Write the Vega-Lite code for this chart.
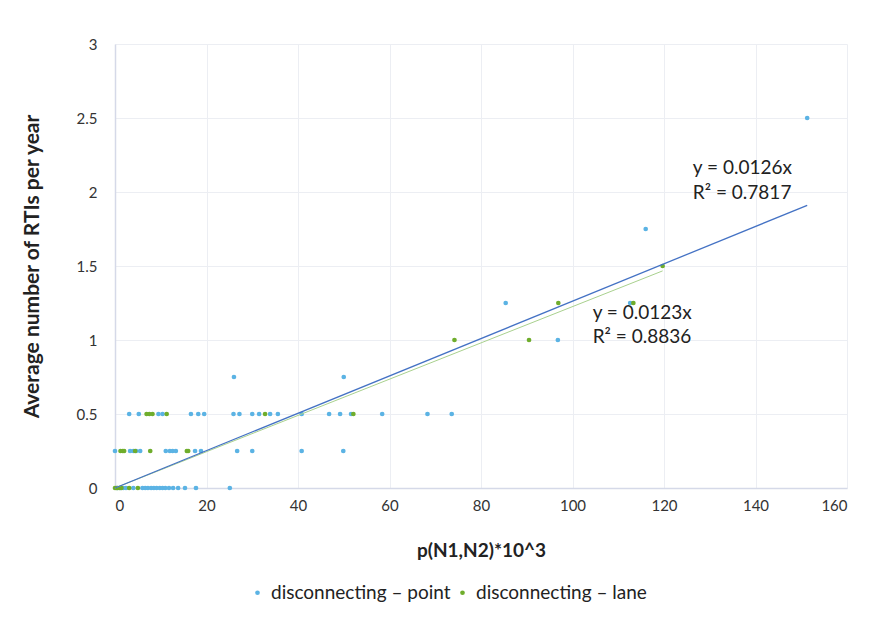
{
  "$schema": "https://vega.github.io/schema/vega-lite/v6.json",
  "width": 732,
  "height": 444,
  "autosize": {"type": "none"},
  "padding": {"left": 115, "top": 44, "right": 43, "bottom": 134},
  "background": "white",
  "config": {
    "font": "Lato",
    "view": {"stroke": null},
    "axis": {
      "grid": true,
      "gridColor": "#ECEEF3",
      "gridWidth": 1,
      "domainColor": "#D5D9E8",
      "domainWidth": 1.5,
      "ticks": false,
      "labelFont": "Lato",
      "labelFontSize": 15,
      "labelColor": "#333333",
      "titleFont": "Lato",
      "titleFontSize": 19,
      "titleFontWeight": "bold",
      "titleColor": "#222222"
    }
  },
  "datasets": {
    "points": [
      {"x": 0.5, "y": 0, "series": "disconnecting – point"},
      {"x": 1.2, "y": 0, "series": "disconnecting – point"},
      {"x": 1.8, "y": 0, "series": "disconnecting – point"},
      {"x": 2.4, "y": 0, "series": "disconnecting – point"},
      {"x": 4.0, "y": 0, "series": "disconnecting – point"},
      {"x": 6.0, "y": 0, "series": "disconnecting – point"},
      {"x": 6.6, "y": 0, "series": "disconnecting – point"},
      {"x": 7.2, "y": 0, "series": "disconnecting – point"},
      {"x": 7.9, "y": 0, "series": "disconnecting – point"},
      {"x": 8.5, "y": 0, "series": "disconnecting – point"},
      {"x": 9.1, "y": 0, "series": "disconnecting – point"},
      {"x": 9.8, "y": 0, "series": "disconnecting – point"},
      {"x": 10.4, "y": 0, "series": "disconnecting – point"},
      {"x": 11.0, "y": 0, "series": "disconnecting – point"},
      {"x": 11.8, "y": 0, "series": "disconnecting – point"},
      {"x": 12.7, "y": 0, "series": "disconnecting – point"},
      {"x": 13.8, "y": 0, "series": "disconnecting – point"},
      {"x": 15.3, "y": 0, "series": "disconnecting – point"},
      {"x": 17.7, "y": 0, "series": "disconnecting – point"},
      {"x": 25.1, "y": 0, "series": "disconnecting – point"},
      {"x": 0.0, "y": 0.25, "series": "disconnecting – point"},
      {"x": 3.3, "y": 0.25, "series": "disconnecting – point"},
      {"x": 4.0, "y": 0.25, "series": "disconnecting – point"},
      {"x": 4.6, "y": 0.25, "series": "disconnecting – point"},
      {"x": 5.5, "y": 0.25, "series": "disconnecting – point"},
      {"x": 11.1, "y": 0.25, "series": "disconnecting – point"},
      {"x": 12.0, "y": 0.25, "series": "disconnecting – point"},
      {"x": 12.6, "y": 0.25, "series": "disconnecting – point"},
      {"x": 13.3, "y": 0.25, "series": "disconnecting – point"},
      {"x": 17.5, "y": 0.25, "series": "disconnecting – point"},
      {"x": 18.8, "y": 0.25, "series": "disconnecting – point"},
      {"x": 26.7, "y": 0.25, "series": "disconnecting – point"},
      {"x": 30.0, "y": 0.25, "series": "disconnecting – point"},
      {"x": 40.8, "y": 0.25, "series": "disconnecting – point"},
      {"x": 49.9, "y": 0.25, "series": "disconnecting – point"},
      {"x": 3.1, "y": 0.5, "series": "disconnecting – point"},
      {"x": 5.2, "y": 0.5, "series": "disconnecting – point"},
      {"x": 9.5, "y": 0.5, "series": "disconnecting – point"},
      {"x": 10.4, "y": 0.5, "series": "disconnecting – point"},
      {"x": 16.6, "y": 0.5, "series": "disconnecting – point"},
      {"x": 18.2, "y": 0.5, "series": "disconnecting – point"},
      {"x": 19.5, "y": 0.5, "series": "disconnecting – point"},
      {"x": 25.9, "y": 0.5, "series": "disconnecting – point"},
      {"x": 27.2, "y": 0.5, "series": "disconnecting – point"},
      {"x": 30.0, "y": 0.5, "series": "disconnecting – point"},
      {"x": 31.5, "y": 0.5, "series": "disconnecting – point"},
      {"x": 33.9, "y": 0.5, "series": "disconnecting – point"},
      {"x": 35.6, "y": 0.5, "series": "disconnecting – point"},
      {"x": 40.8, "y": 0.5, "series": "disconnecting – point"},
      {"x": 46.8, "y": 0.5, "series": "disconnecting – point"},
      {"x": 49.2, "y": 0.5, "series": "disconnecting – point"},
      {"x": 51.6, "y": 0.5, "series": "disconnecting – point"},
      {"x": 58.4, "y": 0.5, "series": "disconnecting – point"},
      {"x": 68.3, "y": 0.5, "series": "disconnecting – point"},
      {"x": 73.6, "y": 0.5, "series": "disconnecting – point"},
      {"x": 26.0, "y": 0.75, "series": "disconnecting – point"},
      {"x": 50.0, "y": 0.75, "series": "disconnecting – point"},
      {"x": 96.8, "y": 1.0, "series": "disconnecting – point"},
      {"x": 85.4, "y": 1.25, "series": "disconnecting – point"},
      {"x": 112.6, "y": 1.25, "series": "disconnecting – point"},
      {"x": 116.0, "y": 1.75, "series": "disconnecting – point"},
      {"x": 151.3, "y": 2.5, "series": "disconnecting – point"},
      {"x": 0.0, "y": 0, "series": "disconnecting – lane"},
      {"x": 0.3, "y": 0, "series": "disconnecting – lane"},
      {"x": 0.6, "y": 0, "series": "disconnecting – lane"},
      {"x": 1.0, "y": 0, "series": "disconnecting – lane"},
      {"x": 1.4, "y": 0, "series": "disconnecting – lane"},
      {"x": 3.1, "y": 0, "series": "disconnecting – lane"},
      {"x": 5.0, "y": 0, "series": "disconnecting – lane"},
      {"x": 1.2, "y": 0.25, "series": "disconnecting – lane"},
      {"x": 1.7, "y": 0.25, "series": "disconnecting – lane"},
      {"x": 2.0, "y": 0.25, "series": "disconnecting – lane"},
      {"x": 4.4, "y": 0.25, "series": "disconnecting – lane"},
      {"x": 7.7, "y": 0.25, "series": "disconnecting – lane"},
      {"x": 15.7, "y": 0.25, "series": "disconnecting – lane"},
      {"x": 16.0, "y": 0.25, "series": "disconnecting – lane"},
      {"x": 6.9, "y": 0.5, "series": "disconnecting – lane"},
      {"x": 7.5, "y": 0.5, "series": "disconnecting – lane"},
      {"x": 8.2, "y": 0.5, "series": "disconnecting – lane"},
      {"x": 11.3, "y": 0.5, "series": "disconnecting – lane"},
      {"x": 32.8, "y": 0.5, "series": "disconnecting – lane"},
      {"x": 52.1, "y": 0.5, "series": "disconnecting – lane"},
      {"x": 74.2, "y": 1.0, "series": "disconnecting – lane"},
      {"x": 90.5, "y": 1.0, "series": "disconnecting – lane"},
      {"x": 96.9, "y": 1.25, "series": "disconnecting – lane"},
      {"x": 113.3, "y": 1.25, "series": "disconnecting – lane"},
      {"x": 119.7, "y": 1.5, "series": "disconnecting – lane"}
    ],
    "trends": [
      {"x": 0, "y": 0, "trend": "point"},
      {"x": 151.3, "y": 1.91, "trend": "point"},
      {"x": 0, "y": 0, "trend": "lane"},
      {"x": 119.7, "y": 1.467, "trend": "lane"}
    ],
    "labels": [
      {"x": 126.3, "y": 2.16, "text": "y = 0.0126x"},
      {"x": 126.3, "y": 1.995, "text": "R² = 0.7817"},
      {"x": 104.4, "y": 1.18, "text": "y = 0.0123x"},
      {"x": 104.4, "y": 1.018, "text": "R² = 0.8836"}
    ]
  },
  "encoding": {
    "x": {
      "field": "x", "type": "quantitative",
      "scale": {"domain": [0, 160], "nice": false},
      "axis": {"values": [0, 20, 40, 60, 80, 100, 120, 140, 160], "format": "d", "title": "p(N1,N2)*10^3", "labelPadding": 10, "titleY": 62, "titleBaseline": "middle"}
    },
    "y": {
      "field": "y", "type": "quantitative",
      "scale": {"domain": [0, 3], "nice": false},
      "axis": {"values": [0, 0.5, 1, 1.5, 2, 2.5, 3], "format": "~g", "title": "Average number of RTIs per year", "titleFontSize": 21, "labelPadding": 18, "titleX": -83, "titleBaseline": "middle"}
    }
  },
  "layer": [
    {
      "data": {"name": "points"},
      "mark": {"type": "circle", "size": 22, "opacity": 1},
      "encoding": {
        "color": {
          "field": "series", "type": "nominal",
          "scale": {"domain": ["disconnecting – point", "disconnecting – lane"], "range": ["#5BB3E4", "#6FAD2C"]},
          "legend": {
            "title": null, "orient": "none", "direction": "horizontal",
            "legendX": 133, "legendY": 539,
            "labelFont": "Lato", "labelFontSize": 19, "labelColor": "#222222", "labelLimit": 0,
            "symbolSize": 22, "symbolType": "circle", "symbolStrokeWidth": 0,
            "columnPadding": 2, "labelOffset": 4
          }
        }
      }
    },
    {
      "data": {"name": "trends"},
      "transform": [{"filter": "datum.trend === 'lane'"}],
      "mark": {"type": "line", "color": "#A9D18E", "strokeWidth": 1},
      "encoding": {}
    },
    {
      "data": {"name": "trends"},
      "transform": [{"filter": "datum.trend === 'point'"}],
      "mark": {"type": "line", "color": "#4472C4", "strokeWidth": 1.3},
      "encoding": {}
    },
    {
      "data": {"name": "labels"},
      "mark": {"type": "text", "align": "left", "baseline": "middle", "font": "Lato", "fontSize": 19, "color": "#222222"},
      "encoding": {"text": {"field": "text"}}
    }
  ]
}
